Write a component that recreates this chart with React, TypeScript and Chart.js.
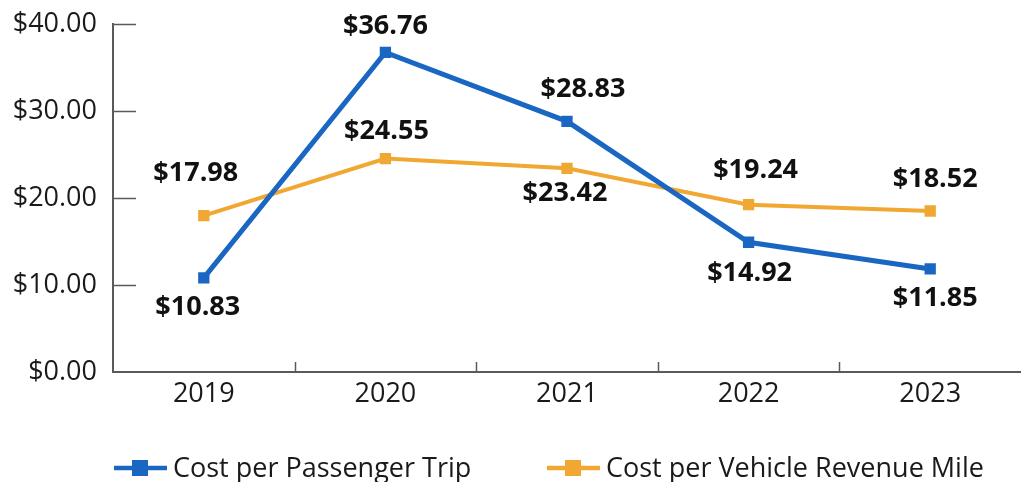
import React, { useEffect, useRef } from "react";
import { Chart, registerables } from "chart.js";

Chart.register(...registerables);

const categories = ["2019", "2020", "2021", "2022", "2023"];
const costPerTrip = [10.83, 36.76, 28.83, 14.92, 11.85];
const costPerMile = [17.98, 24.55, 23.42, 19.24, 18.52];
const seriesNames = ["Cost per Passenger Trip", "Cost per Vehicle Revenue Mile"];
const yTicks = [0, 10, 20, 30, 40];

// label placement (pixels relative to the point): [dx, dy]
const tripLabelOffsets = [[-6, 29], [0, -26], [16, -32], [1, 31], [5, 29]];
const mileLabelOffsets = [[-8, -42], [1, -27], [-2, 25], [7, -34], [5, -32]];

const BLUE = "#1A67C3";
const ORANGE = "#F1A832";
const AXIS = "#5A5A5A";
const FONT = "'Open Sans', 'Noto Sans', sans-serif";

const decorPlugin = {
  id: "decor",
  afterDatasetsDraw(chart: any) {
    const ctx = chart.ctx;
    const x = chart.scales.x;
    const y = chart.scales.y;
    const area = chart.chartArea;
    ctx.save();
    // inward ticks on y axis
    ctx.strokeStyle = AXIS;
    ctx.lineWidth = 1.5;
    yTicks.forEach((v) => {
      if (v === 0) return;
      const py = Math.round(y.getPixelForValue(v)) + 0.5;
      ctx.beginPath();
      ctx.moveTo(area.left, py);
      ctx.lineTo(area.left + 23, py);
      ctx.stroke();
    });
    // inward ticks at category boundaries on x axis
    const n = categories.length;
    const half = (x.getPixelForValue(1) - x.getPixelForValue(0)) / 2;
    for (let i = 0; i < n - 1; i++) {
      const px = Math.round(x.getPixelForValue(i) + half) + 0.5;
      ctx.beginPath();
      ctx.moveTo(px, area.bottom);
      ctx.lineTo(px, area.bottom - 10);
      ctx.stroke();
    }
    // data labels
    ctx.font = `bold 27px ${FONT}`;
    ctx.fillStyle = "#111111";
    ctx.textAlign = "center";
    ctx.textBaseline = "middle";
    const offsets = [tripLabelOffsets, mileLabelOffsets];
    chart.data.datasets.forEach((ds: any, di: number) => {
      const meta = chart.getDatasetMeta(di);
      meta.data.forEach((pt: any, i: number) => {
        const [dx, dy] = offsets[di][i];
        ctx.fillText("$" + ds.data[i].toFixed(2), pt.x + dx, pt.y + dy);
      });
    });
    // legend
    const legendY = 468;
    const items = [{ lineStart: 114 }, { lineStart: 547 }];
    chart.data.datasets.forEach((ds: any, di: number) => {
      const it = items[di];
      ctx.strokeStyle = ds.borderColor;
      ctx.lineWidth = 4.5;
      ctx.beginPath();
      ctx.moveTo(it.lineStart, legendY);
      ctx.lineTo(it.lineStart + 53, legendY);
      ctx.stroke();
      ctx.fillStyle = ds.backgroundColor;
      ctx.fillRect(it.lineStart + 18, legendY - 8, 16, 16);
      ctx.fillStyle = "#1a1a1a";
      ctx.font = `27px ${FONT}`;
      ctx.textAlign = "left";
      ctx.textBaseline = "middle";
      ctx.fillText(ds.label, it.lineStart + 59, legendY + 1);
    });
    ctx.restore();
  },
};

export default function App() {
  const ref = useRef<HTMLCanvasElement>(null);
  useEffect(() => {
    if (!ref.current) return;
    const chart = new Chart(ref.current, {
      type: "line",
      data: {
        labels: categories,
        datasets: [
          {
            label: seriesNames[0],
            data: costPerTrip,
            borderColor: BLUE,
            backgroundColor: BLUE,
            borderWidth: 5,
            pointStyle: "rect",
            pointRadius: 8,
            pointBorderWidth: 0,
            pointBackgroundColor: BLUE,
            tension: 0,
          },
          {
            label: seriesNames[1],
            data: costPerMile,
            borderColor: ORANGE,
            backgroundColor: ORANGE,
            borderWidth: 4,
            pointStyle: "rect",
            pointRadius: 8,
            pointBorderWidth: 0,
            pointBackgroundColor: ORANGE,
            tension: 0,
          },
        ],
      },
      options: {
        responsive: false,
        animation: false,
        layout: { autoPadding: false, padding: { top: 22, right: 0, left: 0, bottom: 0 } },
        plugins: {
          legend: { display: false },
          tooltip: { enabled: false },
        },
        scales: {
          x: {
            offset: true,
            grid: { display: false, offset: true },
            border: { display: true, color: AXIS, width: 2 },
            ticks: {
              color: "#1a1a1a",
              font: { family: FONT, size: 27 },
              padding: -2,
              maxRotation: 0,
            },
            afterFit: (s: any) => {
              s.height = 110;
            },
          },
          y: {
            min: 0,
            max: 40,
            grid: { display: false },
            border: { display: true, color: AXIS, width: 2 },
            ticks: {
              stepSize: 10,
              color: "#1a1a1a",
              font: { family: FONT, size: 27 },
              padding: 8,
              callback: (v: any) => "$" + Number(v).toFixed(2),
            },
            afterFit: (s: any) => {
              s.width = 113;
            },
          },
        },
      },
      plugins: [decorPlugin],
    });
    return () => chart.destroy();
  }, []);
  return (
    <div style={{ position: "absolute", left: 0, top: 0, background: "#fff" }}>
      <canvas ref={ref} width={1021} height={482} />
    </div>
  );
}
